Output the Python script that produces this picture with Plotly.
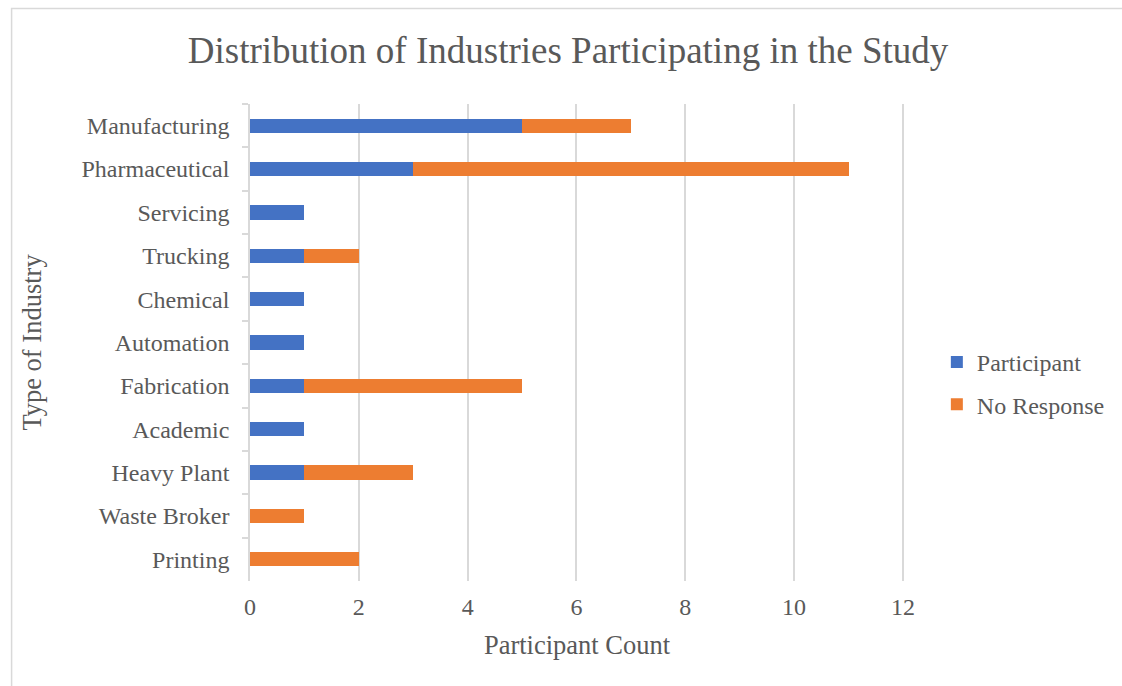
import plotly.graph_objects as go

industries = ["Manufacturing", "Pharmaceutical", "Servicing", "Trucking", "Chemical",
              "Automation", "Fabrication", "Academic", "Heavy Plant", "Waste Broker", "Printing"]
participant = [5, 3, 1, 1, 1, 1, 1, 1, 1, 0, 0]
no_response = [2, 8, 0, 1, 0, 0, 4, 0, 2, 1, 2]

x_ticks = [0, 2, 4, 6, 8, 10, 12]

BLUE = "#4472C4"
ORANGE = "#ED7D31"
TEXT = "#595959"
GRID = "#D9D9D9"
FONT = "Liberation Serif"

W, H = 1122, 686
L, R, T, B = 250, 215, 104, 105

fig = go.Figure()
fig.add_trace(go.Bar(y=industries, x=participant, name="Participant", orientation="h",
                     legendgroup="p", marker=dict(color=BLUE, line=dict(width=0))))
fig.add_trace(go.Bar(y=industries, x=no_response, name="No Response", orientation="h",
                     legendgroup="n", marker=dict(color=ORANGE, line=dict(width=0))))

def px_x(p):
    return (p - L) / (W - L - R)

def px_y(p):
    return (H - B - p) / (H - T - B)

# chart frame
fig.add_shape(type="rect", xref="paper", yref="paper",
              x0=px_x(10.5), x1=px_x(1130), y0=px_y(700), y1=px_y(8.5),
              line=dict(color=GRID, width=1.5), fillcolor="rgba(0,0,0,0)", layer="below")

fig.update_layout(
    width=W, height=H,
    barmode="stack", bargap=0.67,
    plot_bgcolor="white", paper_bgcolor="white",
    margin=dict(l=L, r=R, t=T, b=B),
    font=dict(family=FONT, color=TEXT, size=24),
    title=dict(text="Distribution of Industries Participating in the Study",
               x=568 / W, xanchor="center", y=1 - 50 / H, yanchor="middle",
               yref="container", xref="container",
               font=dict(size=37, color=TEXT, family=FONT)),
    legend=dict(x=px_x(940), y=px_y(340), xanchor="left", yanchor="top",
                font=dict(size=24, color=TEXT, family=FONT), traceorder="grouped",
                tracegroupgap=8, itemwidth=30, bgcolor="rgba(0,0,0,0)"),
    xaxis=dict(range=[0, 12.02], tickvals=x_ticks, showgrid=True, gridcolor=GRID, gridwidth=1.5,
               zeroline=False, showline=False, ticks="", ticklabelstandoff=9,
               title=dict(text="Participant Count", standoff=16, font=dict(size=26.5, family=FONT))),
    yaxis=dict(autorange="reversed", showline=True, linecolor=GRID, linewidth=1.5,
               ticks="outside", tickson="boundaries", ticklen=6, tickcolor=GRID, tickwidth=1.5,
               showgrid=False, ticklabelstandoff=14,
               title=dict(text="Type of Industry", standoff=32, font=dict(size=26.5, family=FONT))),
)

fig.write_html("out.html")
